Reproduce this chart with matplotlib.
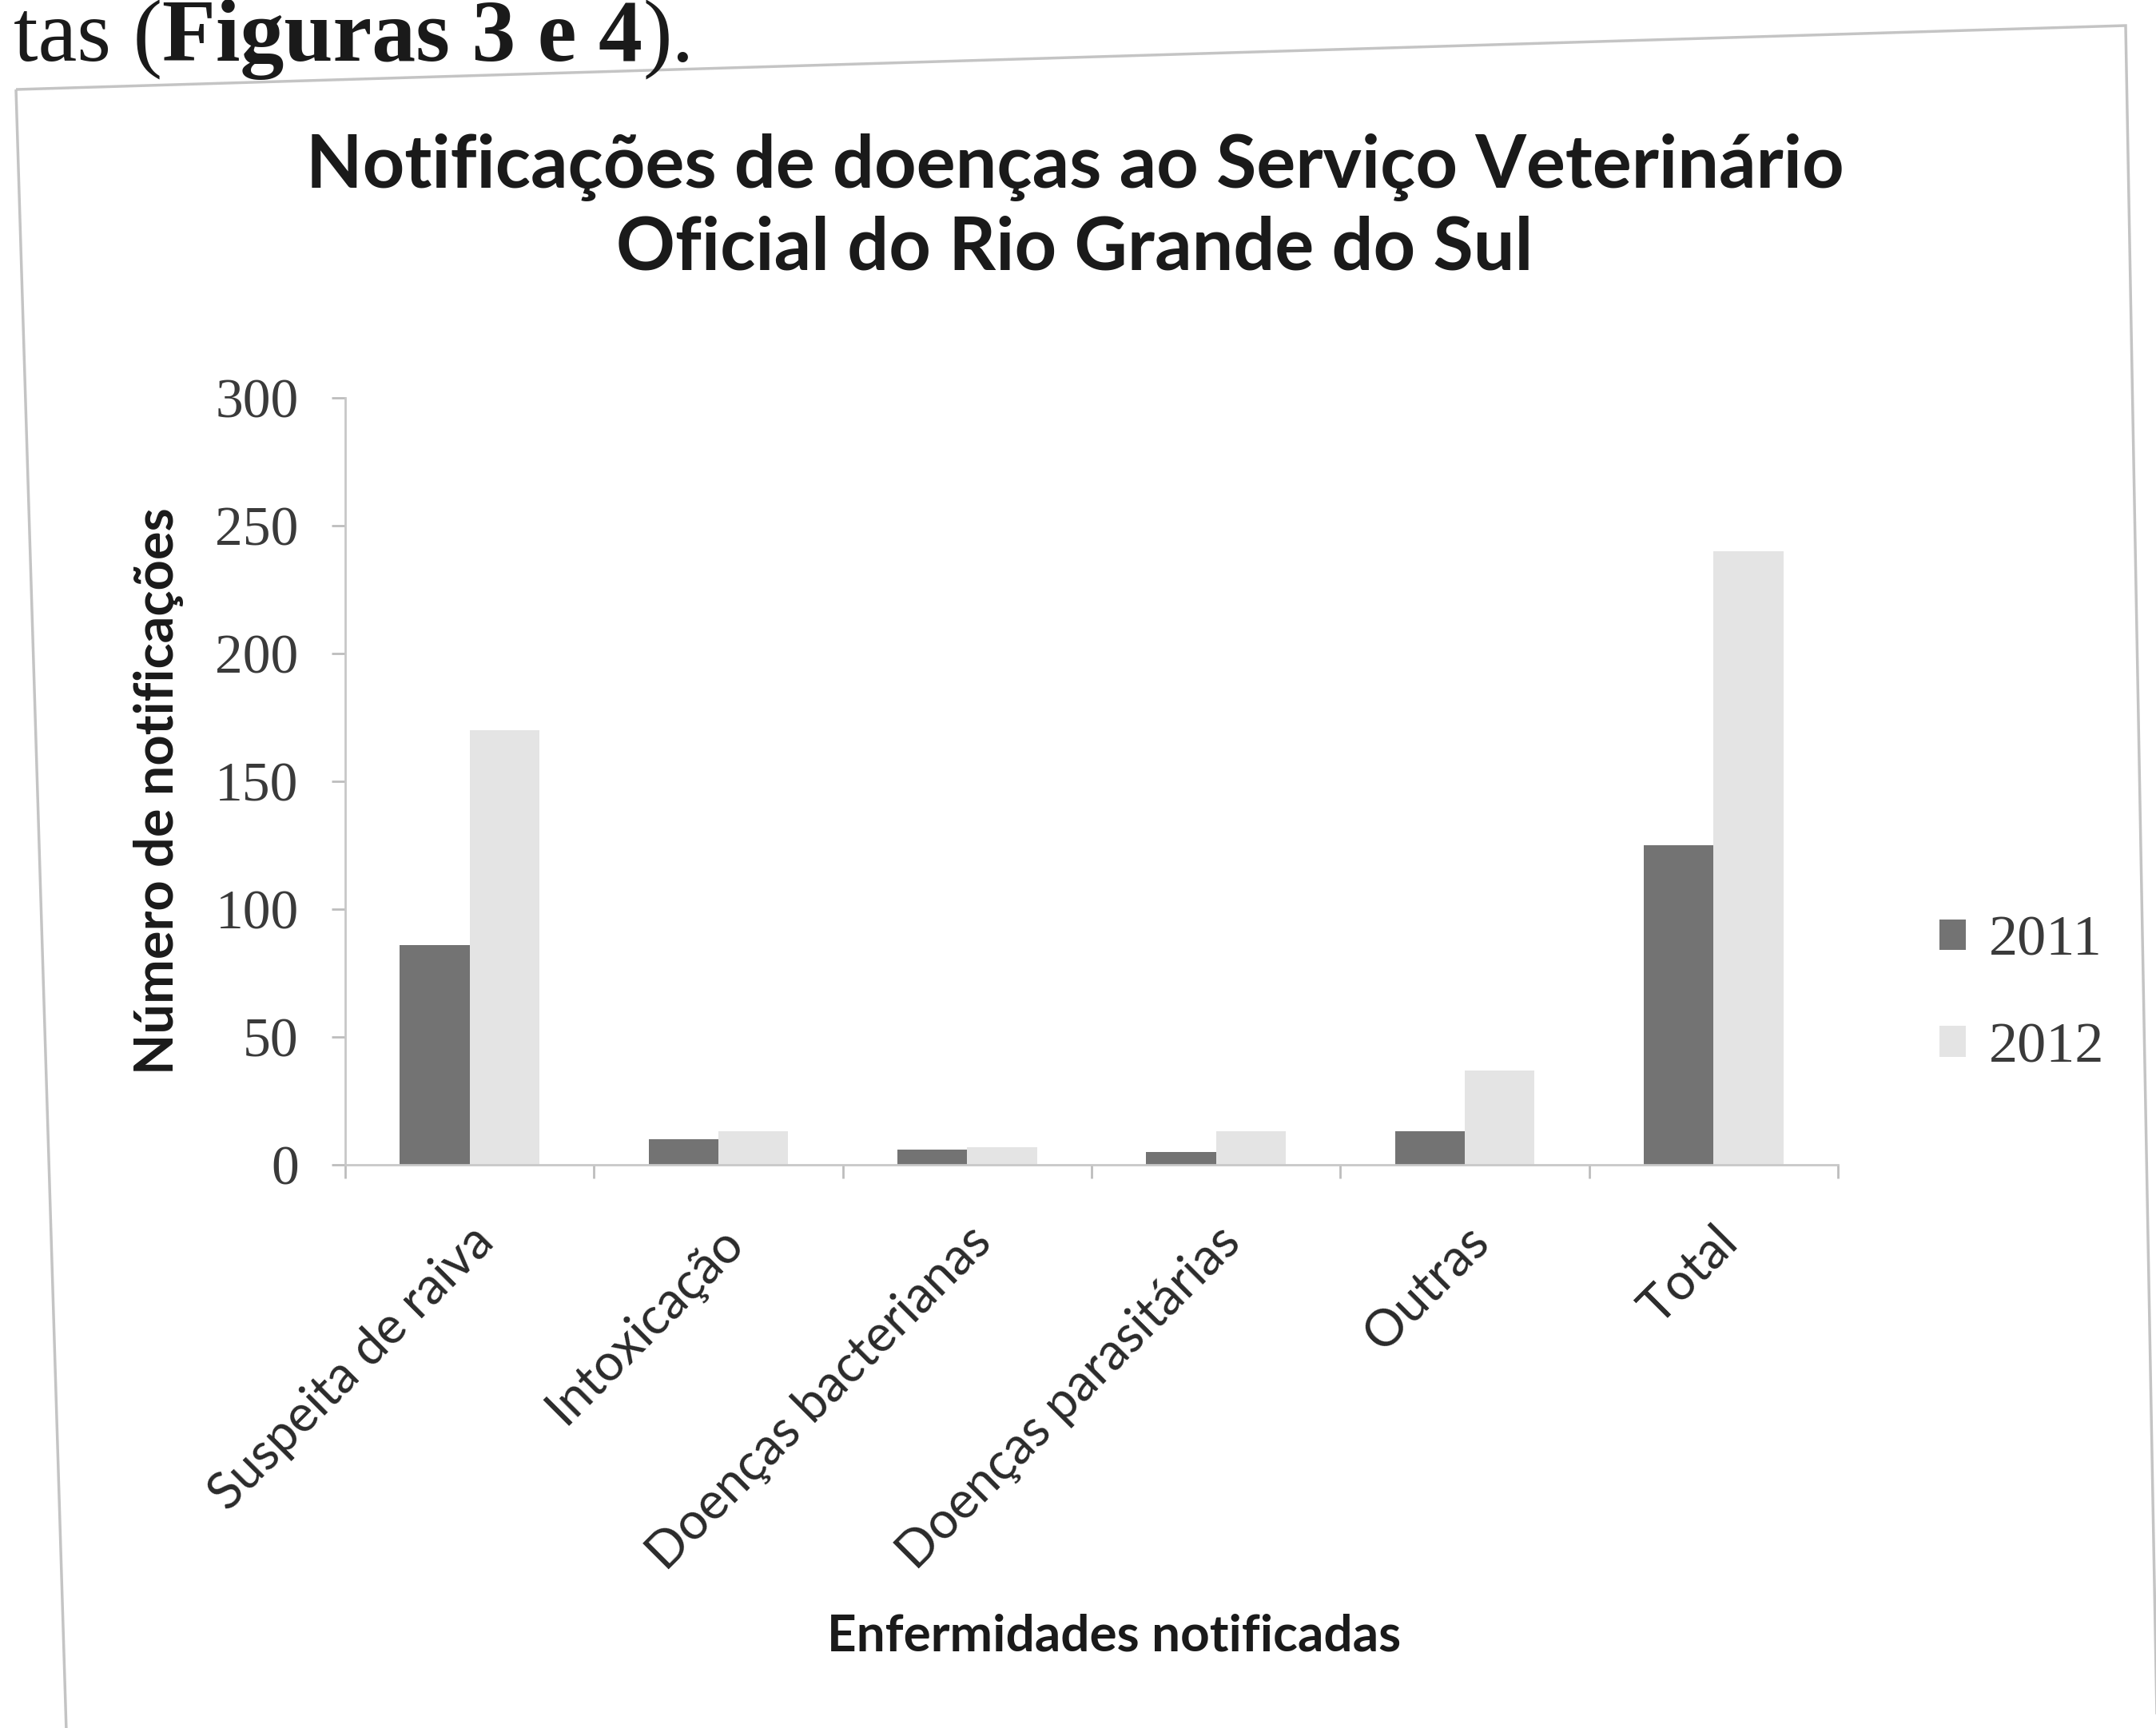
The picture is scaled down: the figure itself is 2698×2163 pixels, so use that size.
import matplotlib
matplotlib.use("Agg")
import matplotlib.pyplot as plt
from matplotlib.patches import Polygon, Patch
import numpy as np

categories = ["Suspeita de raiva", "Intoxicação", "Doenças bacterianas",
              "Doenças parasitárias", "Outras", "Total"]
series_names = ["2011", "2012"]
values_2011 = [86, 10, 6, 5, 13, 125]
values_2012 = [170, 13, 7, 13, 37, 240]
y_ticks = [0, 50, 100, 150, 200, 250, 300]

W, H = 2698, 2163
fig = plt.figure(figsize=(W / 100, H / 100), dpi=100)
fig.patch.set_facecolor("white")

def fx(px):
    return px / W

def fy(py):
    return 1 - py / H

# scanned frame around the chart
frame = Polygon([(fx(20), fy(112)), (fx(2660), fy(32)), (fx(2700), fy(2200)), (fx(84), fy(2200))],
                closed=True, fill=False, edgecolor="#c4c4c4", linewidth=2.5,
                transform=fig.transFigure)
fig.patches.append(frame)

# leading document text
serif = "Liberation Serif"
base = fy(76)
t1 = fig.text(fx(17), base, "tas (", fontsize=79, family=serif, color="#1a1a1a", va="baseline")
t2 = fig.text(0, 0, "Figuras 3 e 4", fontsize=79, family=serif, fontweight="bold", color="#1a1a1a")
fig.canvas.draw()
r = fig.canvas.get_renderer()
bb = t1.get_window_extent(r)
t2.set_position((bb.x1 / W, base))
t2.set_va("baseline")
fig.canvas.draw()
bb2 = t2.get_window_extent(r)
fig.text(bb2.x1 / W, base, ").", fontsize=79, family=serif, color="#1a1a1a", va="baseline")

sans = "Lato"
ax = fig.add_axes([fx(432), fy(1458), fx(2300) - fx(432), fy(498) - fy(1458)])
x = np.arange(len(categories))
bw = 0.28
ax.bar(x - bw / 2, values_2011, width=bw, color="#737373", label=series_names[0])
ax.bar(x + bw / 2, values_2012, width=bw, color="#e4e4e4", label=series_names[1])

ax.set_xlim(-0.5, len(categories) - 0.5)
ax.set_ylim(0, 300)
ax.set_yticks(y_ticks)
ax.set_yticklabels([str(v) for v in y_ticks], family=serif, fontsize=50, color="#3a3a3a")
ax.set_xticks(np.arange(len(categories) + 1) - 0.5, minor=True)
ax.set_xticks(x)
ax.set_xticklabels(categories, rotation=45, ha="right", rotation_mode="anchor",
                   family=sans, fontsize=46, color="#2a2a2a")
ax.tick_params(axis="x", which="major", length=0, pad=48)
ax.tick_params(axis="x", which="minor", length=12, color="#bdbdbd", width=2)
ax.tick_params(axis="y", length=12, color="#bdbdbd", width=2, pad=30)
for s in ["top", "right"]:
    ax.spines[s].set_visible(False)
for s in ["left", "bottom"]:
    ax.spines[s].set_color("#c8c8c8")
    ax.spines[s].set_linewidth(2)

fig.text(fx(1345), fy(210), "Notificações de doenças ao Serviço Veterinário",
         ha="center", va="center", family=sans, fontweight="bold", fontsize=66, color="#1a1a1a")
fig.text(fx(1345), fy(312), "Oficial do Rio Grande do Sul",
         ha="center", va="center", family=sans, fontweight="bold", fontsize=66, color="#1a1a1a")

fig.text(fx(198), fy(990), "Número de notificações", rotation=90, ha="center", va="center",
         family=sans, fontweight="bold", fontsize=48, color="#1a1a1a")
fig.text(fx(1394), fy(2048), "Enfermidades notificadas", ha="center", va="center",
         family=sans, fontweight="bold", fontsize=46, color="#1a1a1a")

handles = [Patch(facecolor="#737373"), Patch(facecolor="#e4e4e4")]
fig.legend(handles, series_names, loc="center left", bbox_to_anchor=(fx(2362), fy(1245)),
           frameon=False, prop={"family": serif, "size": 52}, labelcolor="#3a3a3a",
           handlelength=0.45, handleheight=0.45, handletextpad=0.4, labelspacing=0.95)

fig.savefig("out.png", dpi=100, facecolor="white")
